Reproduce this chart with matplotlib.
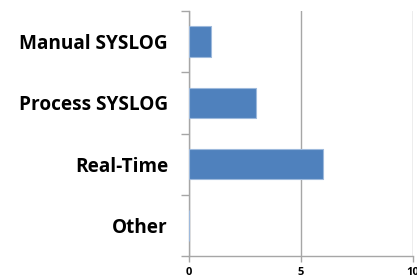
import matplotlib.pyplot as plt
from matplotlib.ticker import FixedLocator

categories = ["Manual SYSLOG", "Process SYSLOG", "Real-Time", "Other"]
values = [1, 3, 6, 0]
xticks = [0, 5, 10]

fig = plt.figure(figsize=(4.17, 2.77), dpi=100)
ax = fig.add_axes([0.453, 0.0758, 0.537, 0.884])

pos = list(range(len(categories)))
ax.barh(pos, values, height=0.5, color="#4F81BD", edgecolor="#9DB9DC", linewidth=0.8, zorder=3)

ax.set_xlim(0, 10)
ax.set_ylim(len(categories) - 0.5, -0.5)
ax.set_xticks(xticks)
ax.set_xticklabels([str(t) for t in xticks], fontsize=8, fontweight="bold", family="Open Sans")
ax.set_yticks(pos)
ax.set_yticklabels(categories, fontsize=13.7, fontweight="bold", family="Open Sans")
ax.yaxis.set_minor_locator(FixedLocator([p + 0.5 for p in pos[:-1]] + [-0.5, len(categories) - 0.5]))
ax.tick_params(axis="y", which="major", length=0, pad=15)
ax.tick_params(axis="y", which="minor", length=6, color="#A6A6A6", width=1)
ax.tick_params(axis="x", length=4, color="#A6A6A6", width=1, pad=4)

ax.grid(axis="x", color="#A6A6A6", linewidth=1, zorder=0)
for s in ["top", "right"]:
    ax.spines[s].set_visible(False)
for s in ["left", "bottom"]:
    ax.spines[s].set_color("#A6A6A6")
    ax.spines[s].set_linewidth(1)

fig.savefig("out.png", dpi=100)
